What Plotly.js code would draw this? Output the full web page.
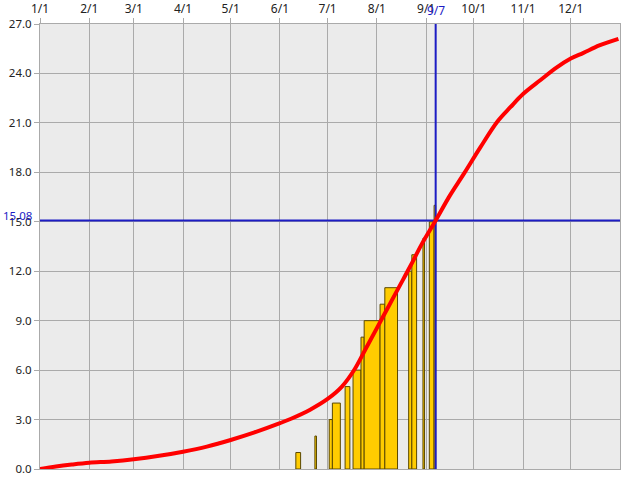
<!DOCTYPE html>
<html>
<head>
<meta charset="utf-8">
<script src="https://cdn.plot.ly/plotly-3.0.1.min.js"></script>
<style>html,body{margin:0;padding:0;background:#fff}#chart{width:640px;height:480px}</style>
</head>
<body>
<div id="chart"></div>
<script>
// Normal cumulative curve (red)
const normalDates = ['2023-01-01','2023-01-11','2023-01-21','2023-02-01','2023-02-15','2023-03-01','2023-03-17','2023-04-01','2023-04-16','2023-05-01','2023-05-16','2023-06-01','2023-06-08','2023-06-20','2023-07-01','2023-07-10','2023-07-18','2023-07-25','2023-08-01','2023-08-08','2023-08-15','2023-08-22','2023-08-29','2023-09-07','2023-09-16','2023-09-25','2023-10-05','2023-10-16','2023-10-24','2023-11-01','2023-11-12','2023-11-22','2023-12-01','2023-12-09','2023-12-19','2023-12-31'];
const normalValues = [0,0.15,0.27,0.38,0.46,0.59,0.80,1.05,1.36,1.76,2.22,2.78,3.05,3.6,4.25,5.0,6.05,7.3,8.55,9.8,11.05,12.3,13.6,15.08,16.6,17.95,19.5,21.1,21.95,22.75,23.6,24.35,24.9,25.25,25.7,26.1];

// Actual cumulative count bars (yellow): start date, duration in days, value
const barStarts = ['2023-06-11','2023-06-23','2023-07-02','2023-07-04','2023-07-12','2023-07-17','2023-07-22','2023-07-24','2023-08-03','2023-08-06','2023-08-21','2023-08-23','2023-08-30','2023-09-03','2023-09-06'];
const barDays   = [3,1,2,5,3,5,2,10,3,8,2,3,1,3,1];
const barValues = [1,2,3,4,5,6,8,9,10,11,12,13,14,15,16];

// Month ticks on the top axis
const tickDates  = ['2023-01-01','2023-02-01','2023-03-01','2023-04-01','2023-05-01','2023-06-01','2023-07-01','2023-08-01','2023-09-01','2023-10-01','2023-11-01','2023-12-01'];
const tickLabels = ['1/1','2/1','3/1','4/1','5/1','6/1','7/1','8/1','9/1','10/1','11/1','12/1'];

// Reference markers
const markDate = '2023-09-07';
const markDateLabel = '9/7';
const markValue = 15.08;
const markValueLabel = '15.08';

const xRange = ['2023-01-01','2024-01-01'];
const yRange = [0, 27];

const DAY = 86400000;
const blue = '#1c1cc4';

const traces = [
  {
    type: 'bar',
    x: barStarts,
    y: barValues,
    width: barDays.map(d => d * DAY),
    offset: 0,
    marker: {color: '#ffcc00', line: {color: '#5a4800', width: 1}},
    hoverinfo: 'x+y'
  },
  {
    type: 'scatter', mode: 'lines',
    x: [xRange[0], xRange[1]], y: [markValue, markValue],
    line: {color: blue, width: 2}
  },
  {
    type: 'scatter', mode: 'lines',
    x: [markDate, markDate], y: yRange,
    line: {color: blue, width: 2}
  },
  {
    type: 'scatter', mode: 'lines',
    x: normalDates, y: normalValues,
    line: {color: '#ff0000', width: 4, shape: 'spline', smoothing: 1}
  }
];

const layout = {
  width: 640, height: 480,
  margin: {l: 40, r: 20, t: 24, b: 11},
  paper_bgcolor: '#ffffff',
  plot_bgcolor: '#ebebeb',
  showlegend: false,
  bargap: 0,
  font: {family: 'Noto Sans, DejaVu Sans, sans-serif', size: 12, color: '#222'},
  xaxis: {
    type: 'date', side: 'top', range: xRange,
    tickmode: 'array', tickvals: tickDates, ticktext: tickLabels,
    showgrid: true, gridcolor: '#aaaaaa', gridwidth: 1,
    ticks: 'outside', ticklen: 5, tickcolor: '#aaaaaa',
    showline: true, linecolor: '#aaaaaa', mirror: true,
    zeroline: false, fixedrange: true,
    tickfont: {size: 12, color: '#222'}
  },
  yaxis: {
    range: yRange, dtick: 3, tick0: 0, tickformat: '.1f',
    showgrid: true, gridcolor: '#aaaaaa', gridwidth: 1,
    ticks: 'outside', ticklen: 5, tickcolor: '#aaaaaa',
    showline: true, linecolor: '#aaaaaa', mirror: true,
    zeroline: false, fixedrange: true,
    tickfont: {size: 11.5, color: '#222'}
  },
  annotations: [
    {
      x: markDate, xref: 'x', y: 1, yref: 'paper',
      text: markDateLabel, showarrow: false,
      xanchor: 'center', yanchor: 'bottom', yshift: 3,
      font: {size: 12, color: blue}
    },
    {
      x: 0, xref: 'paper', y: markValue, yref: 'y',
      text: markValueLabel, showarrow: false,
      xanchor: 'right', yanchor: 'middle', xshift: -6, yshift: 5,
      font: {size: 11.5, color: blue}
    }
  ]
};

Plotly.newPlot('chart', traces, layout, {displayModeBar: false, staticPlot: true});
</script>
</body>
</html>
